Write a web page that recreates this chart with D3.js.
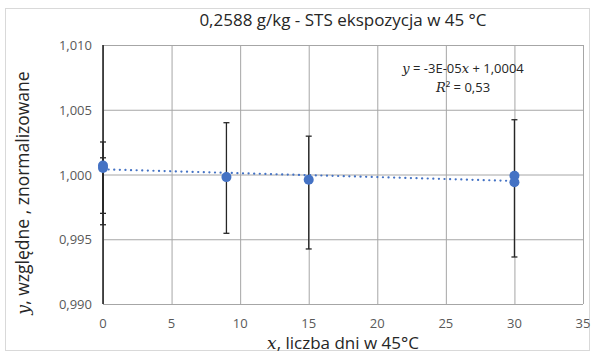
<!DOCTYPE html>
<html lang="pl">
<head>
<meta charset="utf-8">
<title>0,2588 g/kg - STS ekspozycja w 45 °C</title>
<script src="https://d3js.org/d3.v7.min.js"></script>
<style>
  body { margin: 0; background: #fff; }
  text { font-family: "Open Sans", "Noto Sans", sans-serif; }
  .serif { font-family: "DejaVu Serif", "Liberation Serif", serif; font-style: italic; }
</style>
</head>
<body>
<script>
// punkty pomiarowe
var days = [0, 0, 9, 15, 30, 30];
var values = [1.0007, 1.0005, 0.9998, 0.9996, 0.9999, 0.9994];

// słupki błędów (dolna / górna granica)
var errDays = [0, 0, 9, 15, 30];
var errLow = [0.99612, 0.99700, 0.99546, 0.99425, 0.99363];
var errHigh = [1.00251, 1.00129, 1.00400, 1.00296, 1.00423];

// linia trendu y = -3E-05x + 1,0004
var trendDays = [0, 30];
var trendValues = [1.0004, 0.9995];

var xTicks = [0, 5, 10, 15, 20, 25, 30, 35];
var yTicks = [0.990, 0.995, 1.000, 1.005, 1.010];

var width = 595, height = 354;
var pLeft = 103, pRight = 583, pTop = 45, pBottom = 304;
var blue = "#4472c4";

var svg = d3.select("body").append("svg")
    .attr("width", width)
    .attr("height", height);

svg.append("rect")
    .attr("x", 5.5).attr("y", 8.5)
    .attr("width", 584).attr("height", 342)
    .attr("fill", "#fff")
    .attr("stroke", "#d9d9d9");

var x = d3.scaleLinear().domain([0, 35]).range([pLeft, pRight]);
var y = d3.scaleLinear().domain([0.990, 1.010]).range([pBottom, pTop]);

var fmt = function(d) { return d3.format(".3f")(d).replace(".", ","); };

// siatka
svg.append("g")
    .attr("transform", "translate(0," + pBottom + ")")
    .call(d3.axisBottom(x).tickValues(xTicks).tickSize(-(pBottom - pTop)).tickFormat(""))
    .call(function(g) {
        g.select(".domain").remove();
        g.selectAll("line").attr("stroke", "#a6a6a6");
    });

svg.append("g")
    .attr("transform", "translate(" + pLeft + ",0)")
    .call(d3.axisLeft(y).tickValues(yTicks).tickSize(-(pRight - pLeft)).tickFormat(""))
    .call(function(g) {
        g.select(".domain").remove();
        g.selectAll("line").attr("stroke", "#a6a6a6");
    });

// oś y (czarna)
svg.append("line")
    .attr("x1", x(0)).attr("x2", x(0))
    .attr("y1", pTop).attr("y2", pBottom)
    .attr("stroke", "#1a1a1a").attr("stroke-width", 1.5);

// etykiety osi
svg.append("g")
    .selectAll("text")
    .data(xTicks)
    .enter().append("text")
    .attr("x", function(d) { return x(d); })
    .attr("y", 328)
    .attr("text-anchor", "middle")
    .attr("font-size", 13)
    .attr("fill", "#595959")
    .text(function(d) { return d; });

svg.append("g")
    .selectAll("text")
    .data(yTicks)
    .enter().append("text")
    .attr("x", 92)
    .attr("y", function(d) { return y(d) + 5; })
    .attr("text-anchor", "end")
    .attr("font-size", 13)
    .attr("fill", "#595959")
    .text(fmt);

// słupki błędów
var eb = svg.append("g")
    .selectAll("g")
    .data(errDays)
    .enter().append("g")
    .attr("stroke", "#262626")
    .attr("stroke-width", 1.3);

eb.append("line")
    .attr("x1", function(d) { return x(d); })
    .attr("x2", function(d) { return x(d); })
    .attr("y1", function(d, i) { return y(errLow[i]); })
    .attr("y2", function(d, i) { return y(errHigh[i]); });

eb.append("line")
    .attr("x1", function(d) { return x(d) - 3; })
    .attr("x2", function(d) { return x(d) + 3; })
    .attr("y1", function(d, i) { return y(errLow[i]); })
    .attr("y2", function(d, i) { return y(errLow[i]); });

eb.append("line")
    .attr("x1", function(d) { return x(d) - 3; })
    .attr("x2", function(d) { return x(d) + 3; })
    .attr("y1", function(d, i) { return y(errHigh[i]); })
    .attr("y2", function(d, i) { return y(errHigh[i]); });

// trend
var line = d3.line()
    .x(function(d) { return x(d); })
    .y(function(d, i) { return y(trendValues[i]); });

svg.append("path")
    .datum(trendDays)
    .attr("d", line)
    .attr("fill", "none")
    .attr("stroke", blue)
    .attr("stroke-width", 2.2)
    .attr("stroke-linecap", "round")
    .attr("stroke-dasharray", "0.1 5.5");

// punkty
svg.append("g")
    .selectAll("circle")
    .data(days)
    .enter().append("circle")
    .attr("cx", function(d) { return x(d); })
    .attr("cy", function(d, i) { return y(values[i]); })
    .attr("r", 5)
    .attr("fill", blue);

// tytuł
svg.append("text")
    .attr("x", 343).attr("y", 26)
    .attr("text-anchor", "middle")
    .attr("font-size", 17)
    .attr("fill", "#262626")
    .text("0,2588 g/kg  - STS ekspozycja w 45 °C");

// równanie
var eq = svg.append("text")
    .attr("x", 463).attr("y", 73)
    .attr("text-anchor", "middle")
    .attr("font-size", 13)
    .attr("fill", "#262626");
eq.append("tspan").attr("class", "serif").text("y");
eq.append("tspan").text(" = -3E-05");
eq.append("tspan").attr("class", "serif").text("x");
eq.append("tspan").text(" + 1,0004");

var r2 = svg.append("text")
    .attr("x", 463).attr("y", 92)
    .attr("text-anchor", "middle")
    .attr("font-size", 13)
    .attr("fill", "#262626");
r2.append("tspan").attr("class", "serif").text("R");
r2.append("tspan").text("² = 0,53");

// tytuły osi
var xt = svg.append("text")
    .attr("x", 343).attr("y", 349)
    .attr("text-anchor", "middle")
    .attr("font-size", 17)
    .attr("fill", "#262626");
xt.append("tspan").attr("class", "serif").text("x");
xt.append("tspan").text(", liczba dni w 45°C");

var yt = svg.append("text")
    .attr("transform", "translate(29,193) rotate(-90)")
    .attr("text-anchor", "middle")
    .attr("font-size", 17.5)
    .attr("fill", "#262626");
yt.append("tspan").attr("class", "serif").text("y");
yt.append("tspan").text(", względne , znormalizowane");
</script>
</body>
</html>
